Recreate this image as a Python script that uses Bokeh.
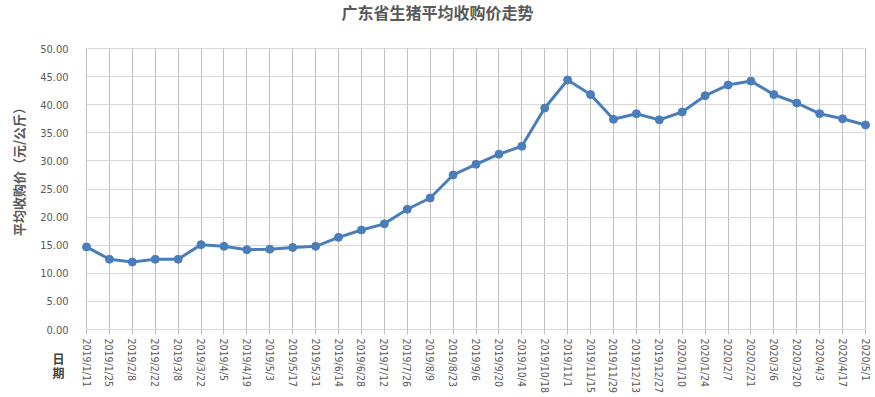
import math
from bokeh.plotting import figure
from bokeh.models import Range1d, FixedTicker, NumeralTickFormatter, Label, ColumnDataSource
from bokeh.embed import file_html
from bokeh.resources import INLINE

dates = ["2019/1/11", "2019/1/25", "2019/2/8", "2019/2/22", "2019/3/8", "2019/3/22", "2019/4/5",
         "2019/4/19", "2019/5/3", "2019/5/17", "2019/5/31", "2019/6/14", "2019/6/28", "2019/7/12",
         "2019/7/26", "2019/8/9", "2019/8/23", "2019/9/6", "2019/9/20", "2019/10/4", "2019/10/18",
         "2019/11/1", "2019/11/15", "2019/11/29", "2019/12/13", "2019/12/27", "2020/1/10",
         "2020/1/24", "2020/2/7", "2020/2/21", "2020/3/6", "2020/3/20", "2020/4/3", "2020/4/17",
         "2020/5/1"]
prices = [14.7, 12.5, 12.0, 12.5, 12.5, 15.1, 14.8, 14.2, 14.3, 14.6, 14.8, 16.4, 17.7, 18.8,
          21.4, 23.4, 27.5, 29.4, 31.2, 32.6, 39.4, 44.4, 41.8, 37.4, 38.4, 37.3, 38.7,
          41.6, 43.5, 44.2, 41.8, 40.3, 38.4, 37.5, 36.4]
y_ticks = [0, 5, 10, 15, 20, 25, 30, 35, 40, 45, 50]
title_text = "广东省生猪平均收购价走势"
y_title = "平均收购价（元/公斤）"
x_title_chars = ["日", "期"]

idx = list(range(len(dates)))
src = ColumnDataSource(dict(x=idx, y=prices))

# canvas / plot-area geometry (pixels)
W, H = 873, 396
PL, PR, PT, PB = 86, 865, 48, 329
x_lo, x_hi = idx[0], idx[-1]
y_lo, y_hi = y_ticks[0], y_ticks[-1]
kx = (PR - PL) / (x_hi - x_lo)
ky = (PB - PT) / (y_hi - y_lo)
x_range = Range1d(x_lo - PL / kx, x_hi + (W - PR) / kx)
y_range = Range1d(y_lo - (H - PB) / ky, y_hi + PT / ky)

p = figure(frame_width=W, frame_height=H, output_backend="svg", toolbar_location=None,
           x_range=x_range, y_range=y_range, min_border=0, title=None)
p.outline_line_color = None
p.background_fill_color = "white"
p.border_fill_color = "white"

# grids limited to the plot area
xg, yg = p.xgrid[0], p.ygrid[0]
xg.grid_line_color = "#bfbfbf"
yg.grid_line_color = "#d9d9d9"
try:
    xg.bounds = (x_lo, x_hi)
    xg.cross_bounds = (y_lo, y_hi)
    yg.bounds = (y_lo, y_hi)
    yg.cross_bounds = (x_lo, x_hi)
except AttributeError:
    xg.visible = False
    yg.visible = False
    p.segment(x0=idx, y0=[y_lo] * len(idx), x1=idx, y1=[y_hi] * len(idx),
              line_color="#bfbfbf", line_width=1)
    p.segment(x0=[x_lo] * len(y_ticks), y0=y_ticks, x1=[x_hi] * len(y_ticks), y1=y_ticks,
              line_color="#d9d9d9", line_width=1)

p.line("x", "y", source=src, line_color="#4a7ebb", line_width=3)
p.scatter("x", "y", source=src, size=8, fill_color="#4a7ebb", line_color="#4a7ebb")

# x axis (fixed at y = 0)
xa = p.xaxis[0]
xa.fixed_location = y_lo
xa.bounds = (x_lo, x_hi)
xa.ticker = FixedTicker(ticks=idx)
xa.major_label_overrides = {i: d for i, d in zip(idx, dates)}
xa.major_label_orientation = "vertical"
xa.major_label_text_font = "DejaVu Sans Condensed"
xa.major_label_text_font_size = "10.5px"
xa.major_label_text_color = "#595959"
xa.major_tick_in = 0
xa.major_tick_out = 5
xa.major_tick_line_color = "#bfbfbf"
xa.minor_tick_line_color = None
xa.axis_line_color = "#d9d9d9"
xa.major_label_standoff = 4

# y axis (fixed at first category)
ya = p.yaxis[0]
ya.fixed_location = x_lo
ya.bounds = (y_lo, y_hi)
ya.ticker = FixedTicker(ticks=y_ticks)
ya.formatter = NumeralTickFormatter(format="0.00")
ya.major_label_text_font = "DejaVu Sans Condensed"
ya.major_label_text_font_size = "11px"
ya.major_label_text_color = "#595959"
ya.major_tick_line_color = None
ya.minor_tick_line_color = None
ya.axis_line_color = None
ya.major_label_standoff = 12

# texts (screen units: from the plot's bottom-left corner)
p.add_layout(Label(x=437, y=H - 11, x_units="screen", y_units="screen", text=title_text,
                   text_font="Noto Sans CJK SC", text_font_size="16px", text_font_style="bold",
                   text_color="#595959", text_align="center", text_baseline="middle"))
p.add_layout(Label(x=18, y=H - 168, x_units="screen", y_units="screen", text=y_title,
                   angle=math.pi / 2, text_font="Noto Sans CJK SC", text_font_size="13px",
                   text_font_style="bold", text_color="#595959",
                   text_align="center", text_baseline="middle"))
for k, ch in enumerate(x_title_chars):
    p.add_layout(Label(x=58, y=H - 358 - 14 * k, x_units="screen", y_units="screen", text=ch,
                       text_font="Noto Sans CJK SC", text_font_size="12px",
                       text_font_style="bold", text_color="#404040",
                       text_align="center", text_baseline="middle"))

open("out.html", "w").write(file_html(p, INLINE))
